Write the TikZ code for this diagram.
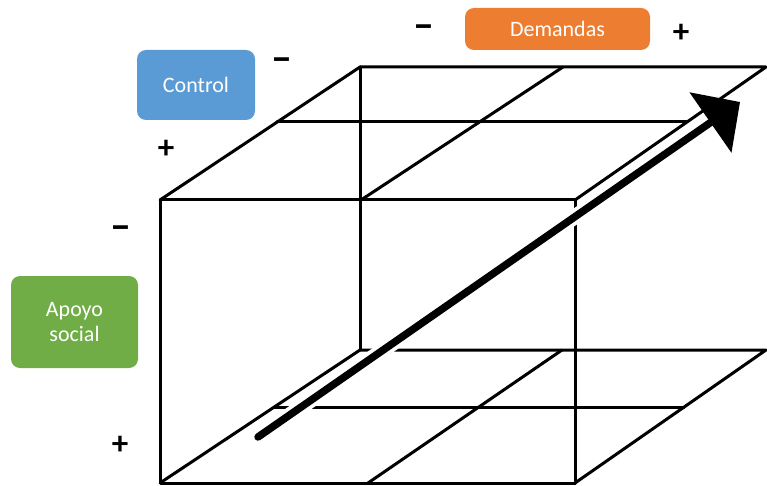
\documentclass[tikz,border=0pt]{standalone}
\usepackage{fontspec}
\setmainfont{Carlito}
\usetikzlibrary{arrows.meta}
\definecolor{boxblue}{HTML}{5B9BD5}
\definecolor{boxorange}{HTML}{ED7D31}
\definecolor{boxgreen}{HTML}{70AD47}
\begin{document}
\begin{tikzpicture}[x=1pt,y=-1pt,
  edge/.style={line width=3pt, line cap=round, line join=round},
  factor/.style={rounded corners=9pt, inner sep=0pt, text=white, align=center,
                 font=\fontsize{22}{25}\selectfont},
  plussign/.style={inner sep=0pt, font=\fontsize{33}{33}\bfseries\selectfont},
  minussign/.style={inner sep=0pt, font=\fontsize{42}{42}\bfseries\selectfont},
  halo/.style={white, line width=15pt},
  trend/.style={line width=7.5pt, line cap=round,
                -{Triangle[length=36pt,width=72pt]}}
]
\useasboundingbox (0,0) rectangle (767,486);

% cube corners
\coordinate (ftl) at (160,200);
\coordinate (ftr) at (575,200);
\coordinate (fbl) at (160,483);
\coordinate (fbr) at (575,483);
\coordinate (btl) at (360,67);
\coordinate (btr) at (766,67);
\coordinate (bbl) at (360,350);
\coordinate (bbr) at (766,350);
% grid points on the top face
\coordinate (tml) at (277,122);
\coordinate (tmr) at (687,122);
\coordinate (tfm) at (361,200);
\coordinate (tbm) at (563,67);
% grid points on the bottom face
\coordinate (bml) at (274,407);
\coordinate (bmr) at (684,407);
\coordinate (bfm) at (368,483);
\coordinate (bbm) at (562,350);

% front face and hidden back edge
\draw[edge] (ftl) rectangle (fbr);
\draw[edge] (btl) -- (bbl);
% top face
\draw[edge] (ftl) -- (btl) -- (btr) -- (ftr);
\draw[edge] (tml) -- (tmr);
\draw[edge] (tfm) -- (tbm);
% bottom face
\draw[edge] (fbl) -- (bbl) -- (bbr) -- (fbr);
\draw[edge] (bml) -- (bmr);
\draw[edge] (bfm) -- (bbm);

% diagonal trend arrow
\coordinate (a0) at (258,437);
\coordinate (a1) at (740,102);
\draw[halo, shorten >=34pt] (a0) -- (a1);
\draw[trend] (a0) -- (a1);

% factor boxes
\node[factor, fill=boxblue, minimum width=118pt, minimum height=70pt] (control) at (196,85) {Control};
\node[factor, fill=boxorange, minimum width=185pt, minimum height=42pt] (demandas) at (557.5,29) {Demandas};
\node[factor, fill=boxgreen, minimum width=127pt, minimum height=92pt] (apoyo) at (74.5,322) {Apoyo\\social};

% axis signs
\node[minussign] (cminus) at (282,65) {–};
\node[plussign] (cplus) at (166,149) {+};
\node[minussign] (dminus) at (424,32) {–};
\node[plussign] (dplus) at (681,33) {+};
\node[minussign] (aminus) at (121,233) {–};
\node[plussign] (aplus) at (120,445) {+};
\end{tikzpicture}
\end{document}
